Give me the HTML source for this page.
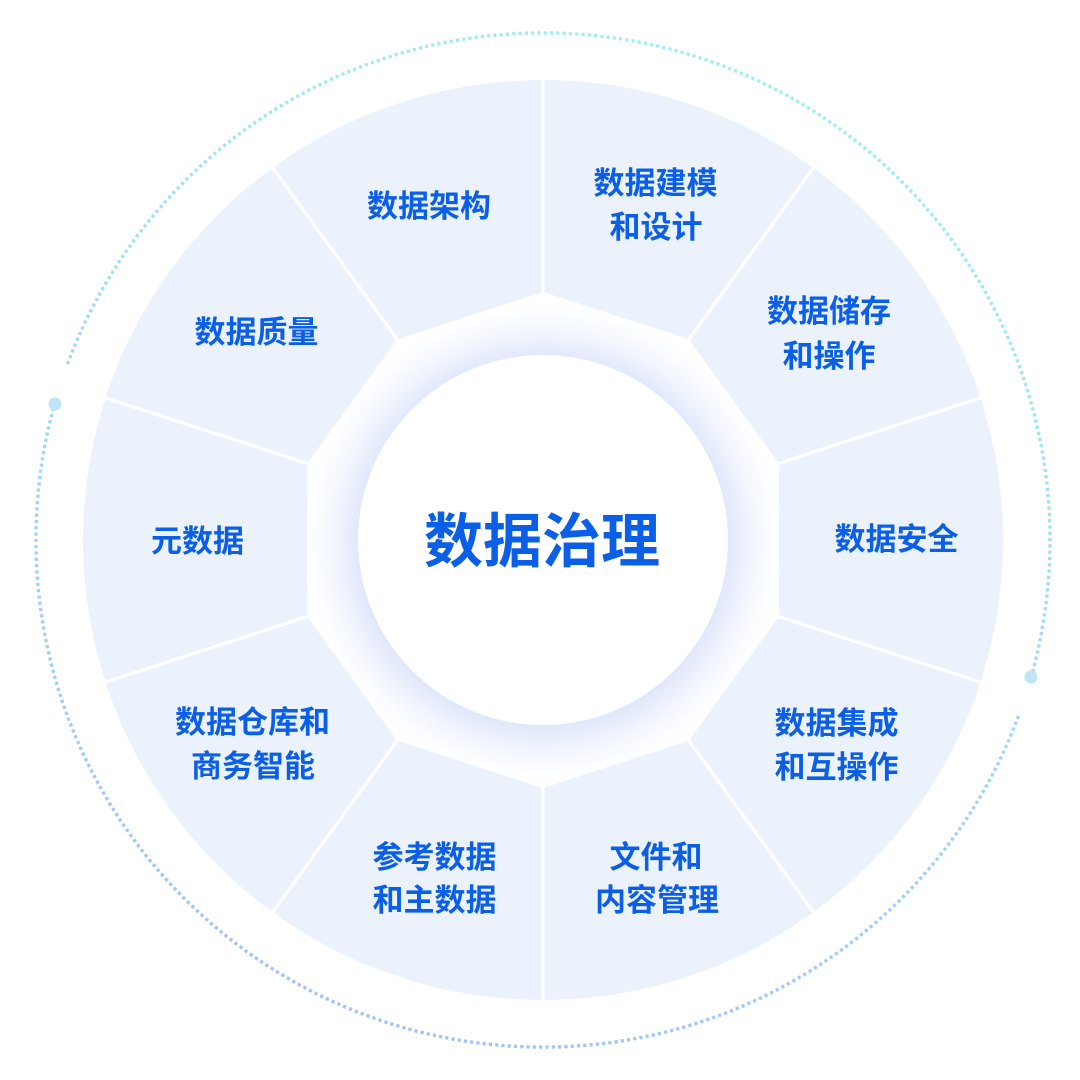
<!DOCTYPE html>
<html>
<head>
<meta charset="utf-8">
<style>
  html,body{margin:0;padding:0;background:#ffffff;}
  body{width:1080px;height:1080px;overflow:hidden;}
  svg{display:block;}
  text{font-family:"Liberation Sans","Noto Sans CJK SC","WenQuanYi Zen Hei",sans-serif;font-weight:bold;fill:#0b5fe7;}
</style>
</head>
<body>
<svg width="1080" height="1080" viewBox="0 0 1080 1080" xmlns="http://www.w3.org/2000/svg">
  <defs>
    <linearGradient id="dotGrad" gradientUnits="userSpaceOnUse" x1="700" y1="30" x2="380" y2="1050">
      <stop offset="0" stop-color="#a2eef3"/>
      <stop offset="0.45" stop-color="#a4daf5"/>
      <stop offset="1" stop-color="#a2c3f6"/>
    </linearGradient>
    <radialGradient id="glow" gradientUnits="userSpaceOnUse" cx="543" cy="542" r="248">
      <stop offset="0" stop-color="#e1e8fa"/>
      <stop offset="0.745" stop-color="#e1e8fa"/>
      <stop offset="0.79" stop-color="#e9eefc"/>
      <stop offset="0.85" stop-color="#f3f6fe"/>
      <stop offset="0.91" stop-color="#fafcff"/>
      <stop offset="0.96" stop-color="#ffffff"/>
      <stop offset="1" stop-color="#ffffff"/>
    </radialGradient>
  </defs>

  <!-- dotted outer arcs -->
  <path d="M 67.5 364.1 A 507 507 0 0 1 1031.1 677.2" fill="none" stroke="url(#dotGrad)" stroke-width="3.4" stroke-dasharray="3.2 3.1"/>
  <path d="M 1018.5 715.9 A 507 507 0 0 1 54.9 402.8" fill="none" stroke="url(#dotGrad)" stroke-width="3.4" stroke-dasharray="3.2 3.1"/>
  <circle cx="1031" cy="677" r="6.5" fill="#bfe4f8"/>
  <circle cx="55" cy="404" r="6.5" fill="#bfe4f8"/>

  <!-- segment disc -->
  <circle cx="543" cy="540" r="460" fill="#ebf2fc"/>

  <!-- dividers -->
  <g stroke="#ffffff" stroke-width="3.2" stroke-linecap="butt">
    <line x1="543" y1="540" x2="543" y2="76"/>
    <line x1="543" y1="540" x2="815.7" y2="164.6"/>
    <line x1="543" y1="540" x2="984.3" y2="396.6"/>
    <line x1="543" y1="540" x2="984.3" y2="683.4"/>
    <line x1="543" y1="540" x2="815.7" y2="915.4"/>
    <line x1="543" y1="540" x2="543" y2="1004"/>
    <line x1="543" y1="540" x2="270.3" y2="915.4"/>
    <line x1="543" y1="540" x2="101.7" y2="683.4"/>
    <line x1="543" y1="540" x2="101.7" y2="396.6"/>
    <line x1="543" y1="540" x2="270.3" y2="164.6"/>
  </g>

  <!-- inner decagon -->
  <polygon points="543,292 688.77,339.36 778.86,463.36 778.86,616.64 688.77,740.64 543,788 397.23,740.64 307.14,616.64 307.14,463.36 397.23,339.36" fill="url(#glow)"/>

  <!-- center circle -->
  <circle cx="543" cy="540" r="185" fill="#ffffff"/>

  <!-- title -->
  <text x="542" y="562" font-size="59" text-anchor="middle">数据治理</text>

  <!-- labels -->
  <g font-size="31" text-anchor="middle">
    <text x="429" y="217">数据架构</text>

    <text x="655.5" y="194">数据建模</text>
    <text x="656" y="238">和设计</text>

    <text x="829" y="322">数据储存</text>
    <text x="829" y="367">和操作</text>

    <text x="896.5" y="550">数据安全</text>

    <text x="836.5" y="734">数据集成</text>
    <text x="836.5" y="778">和互操作</text>

    <text x="656" y="868">文件和</text>
    <text x="657" y="911">内容管理</text>

    <text x="434.5" y="868">参考数据</text>
    <text x="434.5" y="911">和主数据</text>

    <text x="252.5" y="733">数据仓库和</text>
    <text x="253" y="777">商务智能</text>

    <text x="197.5" y="552">元数据</text>

    <text x="256.5" y="343">数据质量</text>
  </g>
</svg>
</body>
</html>
